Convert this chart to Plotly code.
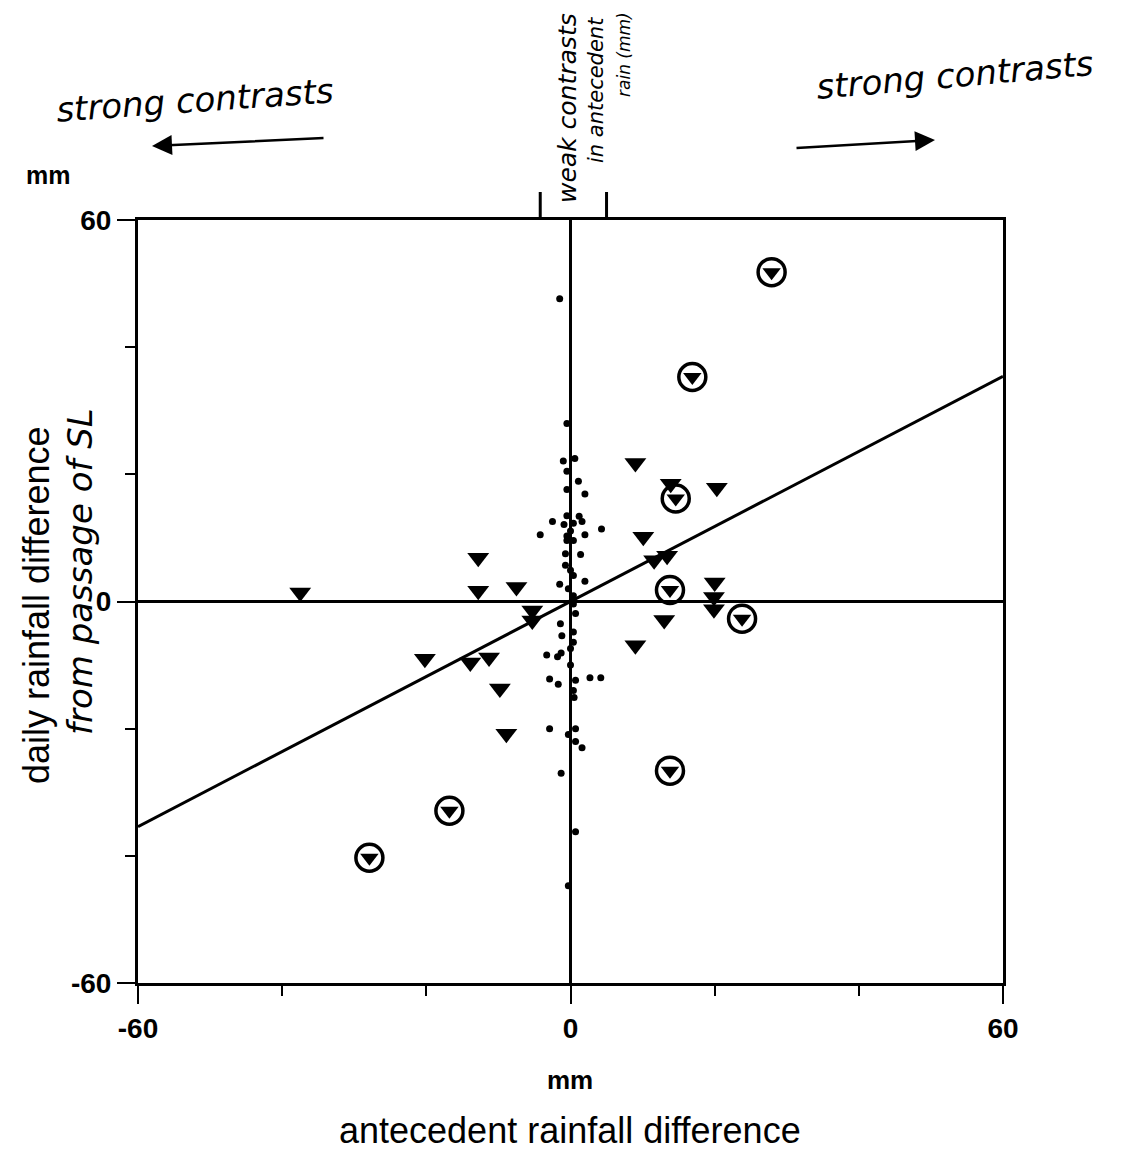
import plotly.graph_objects as go

# ---- data (mm) ----
tri_x = [-37.5, -12.8, -12.8, -7.5, -5.3, -5.3, -20.2, -13.9, -11.3, -9.8, -8.9,
         9.0, 13.9, 20.3, 10.1, 11.6, 13.4, 20.0, 19.9, 13.0, 19.9, 9.0]
tri_y = [1.4, 6.9, 1.7, 2.3, -1.4, -3.0, -9.0, -9.6, -8.8, -13.7, -20.8,
         21.8, 18.5, 17.9, 10.2, 6.5, 7.2, 3.0, 0.7, -2.9, -1.2, -6.9]

circ_x = [27.9, 16.9, 14.6, 13.8, 23.8, 13.8, -16.8, -27.9]
circ_y = [51.8, 35.3, 16.2, 1.8, -2.7, -26.6, -32.9, -40.3]

dot_x = [-1.5, -0.5, -1.0, 0.6, -0.5, 1.1, -0.5, 2.0, -0.5, 1.2, -2.5, -0.9, 0.4, 1.6,
         -4.2, 4.3, 0.0, 2.0, -0.5, -0.5, 0.4, -0.7, 1.4, -0.7, 0.0, 0.4, -1.5, 2.0,
         -0.3, 0.4, 0.2, 0.4, 0.7, -1.4, 0.4, -1.2, 0.4, 0.0, -3.3, -1.8, -1.3, 0.0,
         -2.9, -1.7, 0.7, 2.7, 4.2, 0.4, 0.5, -2.9, 0.7, -0.3, 0.7, 1.6, -1.3, 0.7, -0.3]
dot_y = [47.6, 28.0, 22.1, 22.5, 20.5, 18.9, 17.6, 16.9, 13.5, 13.4, 12.6, 12.1, 12.3, 12.6,
         10.5, 11.4, 11.1, 10.5, 10.3, 9.6, 9.6, 7.5, 7.4, 5.7, 4.9, 4.1, 2.7, 3.2,
         2.0, 0.9, 0.0, -0.4, -1.9, -3.5, -4.8, -5.4, -6.4, -7.4, -8.4, -8.7, -8.1, -10.0,
         -12.2, -13.0, -12.4, -12.0, -12.0, -14.0, -15.1, -20.0, -20.0, -20.9, -22.0, -23.0,
         -27.0, -36.2, -44.7]

fit_slope = 0.59
fit_intercept = 0.0
axis_range = [-60, 60]
major_ticks = [-60, 0, 60]
major_labels = ["-60", "0", "60"]
minor_ticks = [-40, -20, 20, 40]
weak_band = [-4.2, 5.0]

fig = go.Figure()

# regression line
fx = axis_range
fy = [fit_slope * v + fit_intercept for v in fx]
fig.add_trace(go.Scatter(x=fx, y=fy, mode="lines", line=dict(color="black", width=3),
                         hoverinfo="skip", showlegend=False))

fig.add_trace(go.Scatter(x=dot_x, y=dot_y, mode="markers",
                         marker=dict(symbol="circle", size=7, color="black"),
                         showlegend=False))
fig.add_trace(go.Scatter(x=tri_x, y=tri_y, mode="markers",
                         marker=dict(symbol="triangle-down", size=19, color="black"),
                         showlegend=False))
fig.add_trace(go.Scatter(x=circ_x, y=circ_y, mode="markers",
                         marker=dict(symbol="triangle-down", size=16, color="black"),
                         showlegend=False))
fig.add_trace(go.Scatter(x=circ_x, y=circ_y, mode="markers",
                         marker=dict(symbol="circle-open", size=27, color="black",
                                     line=dict(width=3.5, color="black")),
                         showlegend=False))

plain = "Liberation Sans, Arial, sans-serif"
hand = "DejaVu Sans, sans-serif"
tickfont = dict(family=plain, size=28, color="black")
axis_common = dict(range=axis_range, showgrid=False, zeroline=True, zerolinecolor="black",
                   zerolinewidth=3, showline=True, linecolor="black", linewidth=3, mirror=True,
                   ticks="outside", tickmode="array", tickvals=major_ticks,
                   ticktext=["<b>%s</b>" % t for t in major_labels],
                   ticklen=18, tickwidth=2, tickcolor="black",
                   tickfont=tickfont,
                   minor=dict(ticks="outside", tickmode="array", tickvals=minor_ticks,
                              ticklen=10, tickwidth=2, tickcolor="black"))

fig.update_layout(
    width=1140, height=1151,
    margin=dict(l=138, r=137, t=220, b=168),
    paper_bgcolor="white", plot_bgcolor="white",
    xaxis=dict(**axis_common),
    yaxis=dict(**axis_common),
    showlegend=False,
)


def px2x(p):
    return (p - 138) / (1003 - 138)


def py2y(p):
    return (983 - p) / (983 - 220)


anns = [
    (570, 1080, "<b>mm</b>", 0, plain, 26),
    (570, 1130, "antecedent rainfall difference", 0, plain, 36),
    (48, 175, "<b>mm</b>", 0, plain, 25),
    (36, 605, "daily rainfall difference", -90, plain, 36),
    (80, 572, "<i>from passage of SL</i>", -90, hand, 34),
    (195, 100, "<i>strong contrasts</i>", -4, hand, 34),
    (955, 75, "<i>strong contrasts</i>", -5, hand, 34),
    (567, 108, "<i>weak contrasts</i>", -90, hand, 25),
    (596, 90, "<i>in antecedent</i>", -90, hand, 21),
    (624, 55, "<i>rain (mm)</i>", -90, hand, 17),
]
for (ax_, ay_, txt, ang, fam, sz) in anns:
    fig.add_annotation(xref="x domain", yref="y domain", x=px2x(ax_), y=py2y(ay_),
                       xanchor="center", yanchor="middle", text=txt, textangle=ang,
                       showarrow=False, font=dict(family=fam, size=sz, color="black"))

# hand-drawn arrows
fig.add_annotation(xref="x domain", yref="y domain", axref="x domain", ayref="y domain",
                   x=px2x(152), y=py2y(146), ax=px2x(325), ay=py2y(138), text="",
                   showarrow=True, arrowhead=2, arrowsize=1.6, arrowwidth=2.5, arrowcolor="black")
fig.add_annotation(xref="x domain", yref="y domain", axref="x domain", ayref="y domain",
                   x=px2x(935), y=py2y(140), ax=px2x(795), ay=py2y(148), text="",
                   showarrow=True, arrowhead=2, arrowsize=1.6, arrowwidth=2.5, arrowcolor="black")

# bracket marks above the frame for the weak-contrast band
for bx in weak_band:
    fig.add_shape(type="line", xref="x", yref="y domain", x0=bx, x1=bx,
                  y0=1.0, y1=1.0 + 28 / 763, line=dict(color="black", width=3))

fig.write_html("out.html")
